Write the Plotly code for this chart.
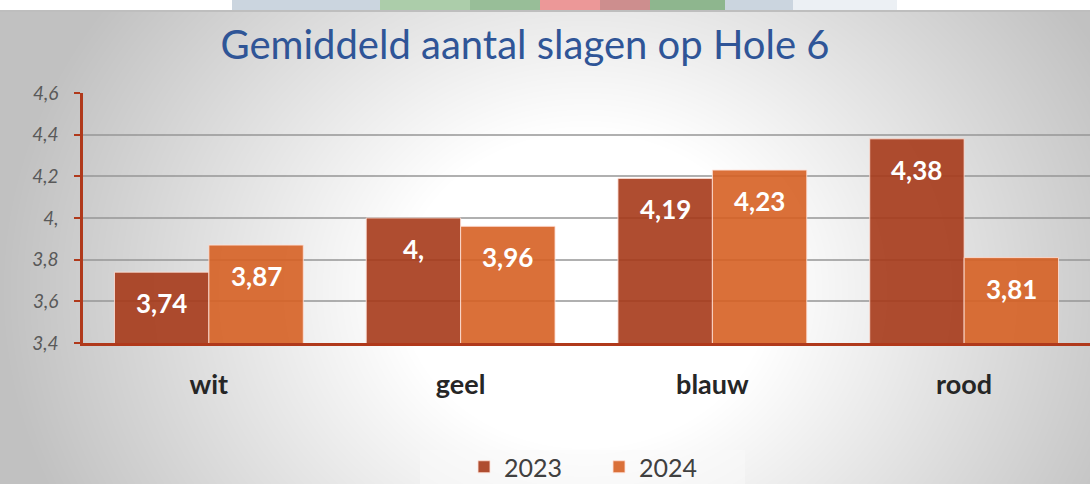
import base64, struct, zlib
import numpy as np
import plotly.graph_objects as go

# ---------------- data ----------------
categories = ["wit", "geel", "blauw", "rood"]
series_names = ["2023", "2024"]
values_2023 = [3.74, 4.00, 4.19, 4.38]
values_2024 = [3.87, 3.96, 4.23, 3.81]
y_ticks = [3.4, 3.6, 3.8, 4.0, 4.2, 4.4, 4.6]
title_text = "Gemiddeld aantal slagen op Hole 6"


def nl_fmt(v):
    # Excel style "0,##" formatting: 4.00 -> "4,"  3.80 -> "3,8"
    s = f"{v:.2f}".rstrip("0")
    return s.replace(".", ",")


# ---------------- background picture (gradient + top strip) ----------------
W, H = 1090, 484


def make_png(arr):
    h, w, _ = arr.shape
    raw = b"".join(b"\x00" + arr[i].tobytes() for i in range(h))

    def chunk(tag, data):
        c = struct.pack(">I", len(data)) + tag + data
        return c + struct.pack(">I", zlib.crc32(tag + data) & 0xFFFFFFFF)

    png = b"\x89PNG\r\n\x1a\n"
    png += chunk(b"IHDR", struct.pack(">IIBBBBB", w, h, 8, 2, 0, 0, 0))
    png += chunk(b"IDAT", zlib.compress(raw, 9))
    png += chunk(b"IEND", b"")
    return png


yy, xx = np.mgrid[0:H, 0:W].astype(float)
r = np.sqrt(((xx - 585) / 560.0) ** 2 + ((yy - 290) / 480.0) ** 2)
v = 255 - 62 * np.clip((r - 0.33) / 0.72, 0, 1)
img = np.stack([v, v, v], axis=-1)
# top strip with faint logo
strip = img[0:10]
strip[:] = 255
def band(x0, x1, col):
    strip[:, x0:x1] = col
band(232, 793, (203, 213, 223))
band(793, 897, (236, 240, 244))
band(380, 470, (172, 205, 170))
band(470, 540, (152, 190, 152))
band(540, 600, (236, 152, 152))
band(600, 650, (205, 142, 142))
band(650, 725, (142, 182, 142))
img[10:12] = 190
img[12:, 0:8] = np.minimum(img[12:, 0:8], 196)
# slightly lighter panel behind the legend
img[450:484, 420:745] = np.clip(img[450:484, 420:745] * 0.5 + 0.5 * 250, 0, 255)
img = np.clip(img, 0, 255).astype(np.uint8)
bg_src = "data:image/png;base64," + base64.b64encode(make_png(img)).decode()

# ---------------- geometry ----------------
ML, MR, MT, MB = 83, 0, 93, 141
PW, PH = W - ML - MR, H - MT - MB

def px_x(px):
    return (px - ML) / PW

def px_y(py):
    return (H - MB - py) / PH

col_2023 = "rgba(166,58,26,0.90)"
col_2024 = "rgba(214,96,36,0.90)"
bar_line = "rgba(255,225,215,0.85)"

fig = go.Figure()
fig.add_trace(go.Bar(name=series_names[0], x=categories, y=values_2023,
                     marker=dict(color=col_2023, line=dict(color=bar_line, width=1))))
fig.add_trace(go.Bar(name=series_names[1], x=categories, y=values_2024,
                     marker=dict(color=col_2024, line=dict(color=bar_line, width=1))))

bargap = 0.25
half = (1 - bargap) / 4
annotations = []
for vals, off in ((values_2023, -half), (values_2024, half)):
    for i, val in enumerate(vals):
        annotations.append(dict(x=i + off, y=val, xref="x", yref="y",
                                text="<b>" + nl_fmt(val) + "</b>", showarrow=False,
                                yanchor="middle", yshift=-31,
                                font=dict(family="Lato", size=26, color="white")))

axis_col = "#B0391B"
fig.update_layout(
    width=W, height=H,
    margin=dict(l=ML, r=MR, t=MT, b=MB, autoexpand=False),
    paper_bgcolor="#d8d8d8",
    plot_bgcolor="rgba(0,0,0,0)",
    barmode="group", bargap=bargap, bargroupgap=0,
    title=dict(text=title_text, x=525 / W, xanchor="center", xref="container",
               y=1 - 45 / H, yanchor="middle", yref="container",
               font=dict(family="Lato", size=40, color="#2F5597")),
    font=dict(family="Lato"),
    showlegend=True,
    legend=dict(orientation="h", x=px_x(464), xanchor="left", y=px_y(467), yanchor="middle",
                bgcolor="rgba(0,0,0,0)", font=dict(family="Lato", size=25, color="#404040"),
                entrywidth=90, entrywidthmode="pixels", traceorder="normal"),
    annotations=annotations,
    images=[dict(source=bg_src, xref="paper", yref="paper",
                 x=px_x(0), y=px_y(0), sizex=W / PW, sizey=H / PH,
                 xanchor="left", yanchor="top", sizing="stretch", layer="below")],
)
fig.update_xaxes(showline=True, linecolor=axis_col, linewidth=2.5,
                 ticks="outside", ticklen=16, tickcolor="rgba(0,0,0,0)",
                 tickfont=dict(family="Lato", size=27, color="#262626", weight="bold"),
                 showgrid=False, range=[-0.5, 3.5])
fig.update_yaxes(range=[3.4, 4.6], tickvals=y_ticks, ticktext=[nl_fmt(t) for t in y_ticks],
                 showline=True, linecolor=axis_col, linewidth=2.5,
                 ticks="outside", ticklen=6, tickcolor=axis_col, tickwidth=2,
                 ticklabelstandoff=12,
                 tickfont=dict(family="Lato", size=19, color="#595959", style="italic"),
                 showgrid=True, gridcolor="rgba(150,150,150,0.75)", gridwidth=2,
                 zeroline=False)

fig.write_html("out.html", config={"displayModeBar": False},
               post_script="document.body.style.margin='0';")
